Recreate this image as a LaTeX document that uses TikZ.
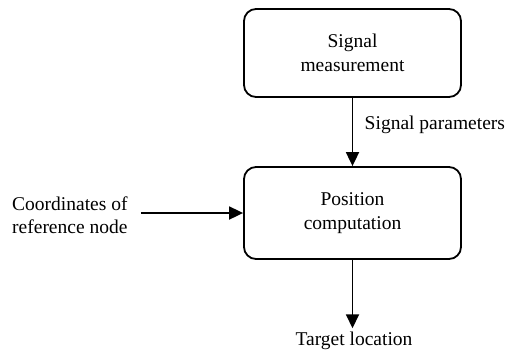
\documentclass[tikz,border=0pt]{standalone}
\usepackage{fontspec}
\setmainfont{Liberation Serif}
\usetikzlibrary{positioning,arrows.meta}

\begin{document}
\begin{tikzpicture}[
  x=1pt, y=-1pt,
  font=\rmfamily\fontsize{19.5}{23.5}\selectfont,
  box/.style={draw, line width=1.8pt, rounded corners=12pt, align=center, minimum width=217pt, minimum height=88pt},
  lbl/.style={inner sep=0pt, align=left},
  arr/.style={-{Triangle[length=14pt,width=13pt]}, line width=1.8pt}]
  \useasboundingbox (0,0) rectangle (506,349);
  % blocks
  \node[box] (meas) at (352.5,53) {Signal\\measurement};
  \node[box, minimum height=92pt] (comp) at (352.5,213) {Position\\computation};
  % inputs and output
  \node[lbl, anchor=west] (ref) at (12,215) {Coordinates of\\reference node};
  \node[lbl, anchor=base] (target) at (354,345) {Target location};
  % arrows
  \draw[arr] (meas) -- node[right=8pt, pos=0.4]{Signal parameters} (comp);
  \draw[arr, shorten <=13pt] (ref.east |- comp.west) -- (comp.west);
  \draw[arr, shorten >=3pt] (comp) -- (comp |- target.north);
\end{tikzpicture}
\end{document}
